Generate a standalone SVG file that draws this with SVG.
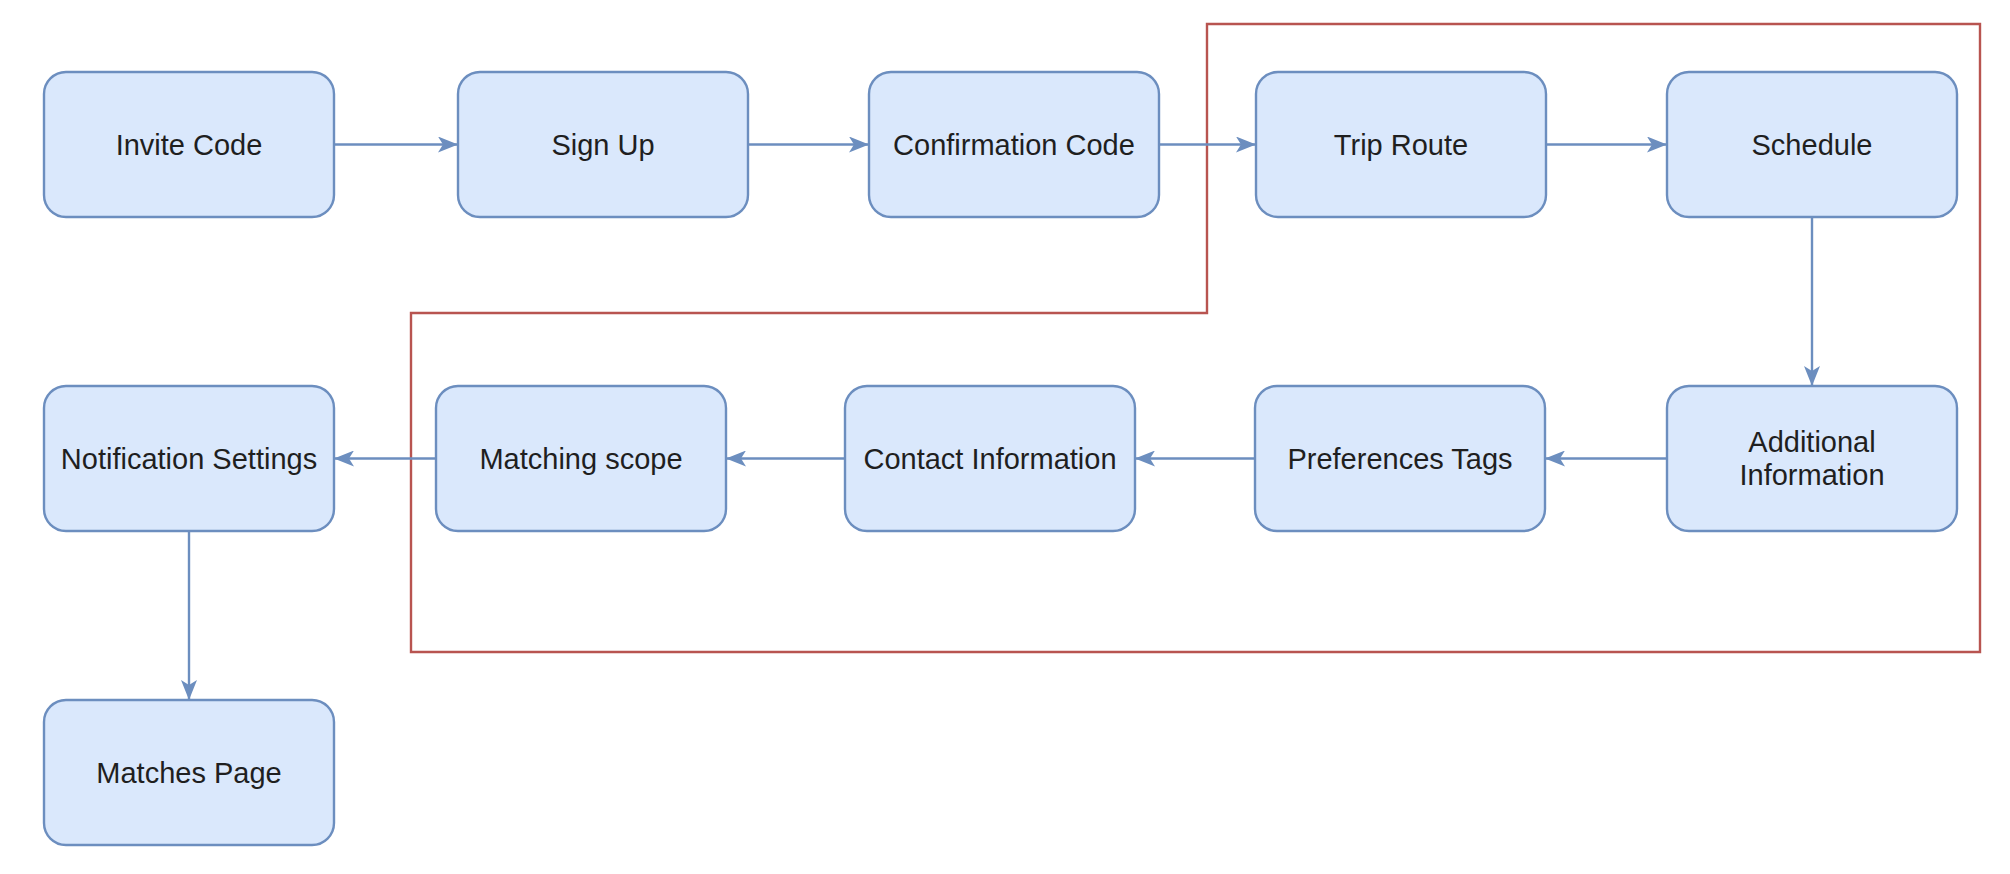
<svg xmlns="http://www.w3.org/2000/svg" width="2010" height="874" viewBox="0 0 2010 874">
<style>
.box{fill:#dae8fc;stroke:#6c8ebf;stroke-width:2.4}
.lbl{font-family:"Liberation Sans",Arial,sans-serif;font-size:29px;fill:#1f1f1f;text-anchor:middle}
.edge{stroke:#6c8ebf;stroke-width:2.4;fill:none;marker-end:url(#arr)}
.frame{fill:none;stroke:#b85450;stroke-width:2.4}
</style>
<defs>
<marker id="arr" viewBox="0 0 20 16" refX="20" refY="8" markerWidth="20" markerHeight="16" markerUnits="userSpaceOnUse" orient="auto">
<path d="M0,0 L20,8 L0,16 L5,8 z" fill="#6c8ebf"/>
</marker>
</defs>
<rect width="2010" height="874" fill="#ffffff"/>
<g id="scope-frame">
<path class="frame" d="M1207,24 L1980,24 L1980,652 L411,652 L411,313 L1207,313 Z"/>
</g>
<g id="connectors">
<line class="edge" x1="334" y1="144.5" x2="458" y2="144.5"/>
<line class="edge" x1="748" y1="144.5" x2="869" y2="144.5"/>
<line class="edge" x1="1159" y1="144.5" x2="1256" y2="144.5"/>
<line class="edge" x1="1546" y1="144.5" x2="1667" y2="144.5"/>
<line class="edge" x1="1812" y1="217" x2="1812" y2="386"/>
<line class="edge" x1="1667" y1="458.5" x2="1545" y2="458.5"/>
<line class="edge" x1="1255" y1="458.5" x2="1135" y2="458.5"/>
<line class="edge" x1="845" y1="458.5" x2="726" y2="458.5"/>
<line class="edge" x1="436" y1="458.5" x2="334" y2="458.5"/>
<line class="edge" x1="189" y1="531" x2="189" y2="700"/>
</g>
<g id="invite-code"><rect class="box" x="44" y="72" width="290" height="145" rx="22" ry="22"/><text class="lbl" x="189" y="155">Invite Code</text></g>
<g id="sign-up"><rect class="box" x="458" y="72" width="290" height="145" rx="22" ry="22"/><text class="lbl" x="603" y="155">Sign Up</text></g>
<g id="confirmation-code"><rect class="box" x="869" y="72" width="290" height="145" rx="22" ry="22"/><text class="lbl" x="1014" y="155">Confirmation Code</text></g>
<g id="trip-route"><rect class="box" x="1256" y="72" width="290" height="145" rx="22" ry="22"/><text class="lbl" x="1401" y="155">Trip Route</text></g>
<g id="schedule"><rect class="box" x="1667" y="72" width="290" height="145" rx="22" ry="22"/><text class="lbl" x="1812" y="155">Schedule</text></g>
<g id="additional-information"><rect class="box" x="1667" y="386" width="290" height="145" rx="22" ry="22"/><text class="lbl" x="1812" y="452">Additional</text><text class="lbl" x="1812" y="485">Information</text></g>
<g id="preferences-tags"><rect class="box" x="1255" y="386" width="290" height="145" rx="22" ry="22"/><text class="lbl" x="1400" y="469">Preferences Tags</text></g>
<g id="contact-information"><rect class="box" x="845" y="386" width="290" height="145" rx="22" ry="22"/><text class="lbl" x="990" y="469">Contact Information</text></g>
<g id="matching-scope"><rect class="box" x="436" y="386" width="290" height="145" rx="22" ry="22"/><text class="lbl" x="581" y="469">Matching scope</text></g>
<g id="notification-settings"><rect class="box" x="44" y="386" width="290" height="145" rx="22" ry="22"/><text class="lbl" x="189" y="469">Notification Settings</text></g>
<g id="matches-page"><rect class="box" x="44" y="700" width="290" height="145" rx="22" ry="22"/><text class="lbl" x="189" y="783">Matches Page</text></g>
</svg>
